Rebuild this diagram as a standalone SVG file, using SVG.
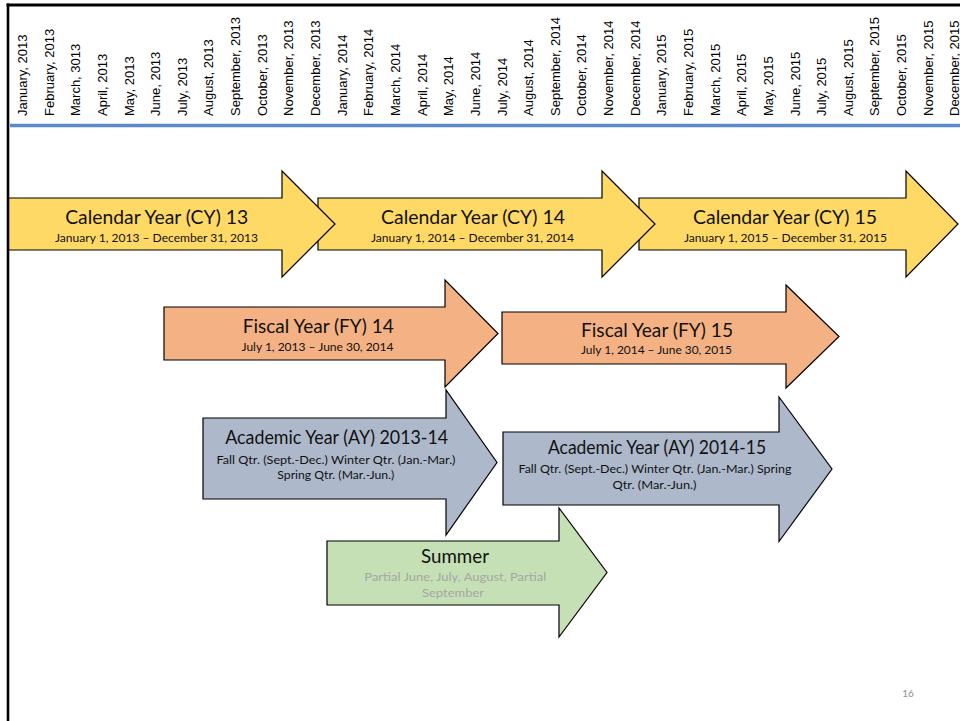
<svg xmlns="http://www.w3.org/2000/svg" width="960" height="721" viewBox="0 0 960 721">
<style>
.m{font-family:"Liberation Sans",Arial,sans-serif;font-size:13px;fill:#000}
.ar{stroke:#000;stroke-width:1.2;stroke-linejoin:miter}
.cy{fill:#FFD966}.fy{fill:#F4B183}.ay{fill:#ADB9CA}.su{fill:#C5E0B4}
.t{font-family:Lato,"Open Sans","Noto Sans",sans-serif;font-size:20px;fill:#111;text-anchor:middle}
.s{font-family:Lato,"Open Sans","Noto Sans",sans-serif;font-size:12px;fill:#111;text-anchor:middle}
.g{fill:#A6A6A6}
</style>
<rect width="960" height="721" fill="#fff"/>
<g id="months">
<text class="m" transform="translate(27,116) rotate(-90)">January, 2013</text>
<text class="m" transform="translate(53.64,116) rotate(-90)">February, 2013</text>
<text class="m" transform="translate(80.28,116) rotate(-90)">March, 3013</text>
<text class="m" transform="translate(106.92,116) rotate(-90)">April, 2013</text>
<text class="m" transform="translate(133.56,116) rotate(-90)">May, 2013</text>
<text class="m" transform="translate(160.2,116) rotate(-90)">June, 2013</text>
<text class="m" transform="translate(186.84,116) rotate(-90)">July, 2013</text>
<text class="m" transform="translate(213.48,116) rotate(-90)">August, 2013</text>
<text class="m" transform="translate(240.12,116) rotate(-90)">September, 2013</text>
<text class="m" transform="translate(266.76,116) rotate(-90)">October, 2013</text>
<text class="m" transform="translate(293.4,116) rotate(-90)">November, 2013</text>
<text class="m" transform="translate(320.04,116) rotate(-90)">December, 2013</text>
<text class="m" transform="translate(346.68,116) rotate(-90)">January, 2014</text>
<text class="m" transform="translate(373.32,116) rotate(-90)">February, 2014</text>
<text class="m" transform="translate(399.96,116) rotate(-90)">March, 2014</text>
<text class="m" transform="translate(426.6,116) rotate(-90)">April, 2014</text>
<text class="m" transform="translate(453.24,116) rotate(-90)">May, 2014</text>
<text class="m" transform="translate(479.88,116) rotate(-90)">June, 2014</text>
<text class="m" transform="translate(506.52,116) rotate(-90)">July, 2014</text>
<text class="m" transform="translate(533.16,116) rotate(-90)">August, 2014</text>
<text class="m" transform="translate(559.8,116) rotate(-90)">September, 2014</text>
<text class="m" transform="translate(586.44,116) rotate(-90)">October, 2014</text>
<text class="m" transform="translate(613.08,116) rotate(-90)">November, 2014</text>
<text class="m" transform="translate(639.72,116) rotate(-90)">December, 2014</text>
<text class="m" transform="translate(666.36,116) rotate(-90)">January, 2015</text>
<text class="m" transform="translate(693,116) rotate(-90)">February, 2015</text>
<text class="m" transform="translate(719.64,116) rotate(-90)">March, 2015</text>
<text class="m" transform="translate(746.28,116) rotate(-90)">April, 2015</text>
<text class="m" transform="translate(772.92,116) rotate(-90)">May, 2015</text>
<text class="m" transform="translate(799.56,116) rotate(-90)">June, 2015</text>
<text class="m" transform="translate(826.2,116) rotate(-90)">July, 2015</text>
<text class="m" transform="translate(852.84,116) rotate(-90)">August, 2015</text>
<text class="m" transform="translate(879.48,116) rotate(-90)">September, 2015</text>
<text class="m" transform="translate(906.12,116) rotate(-90)">October, 2015</text>
<text class="m" transform="translate(932.76,116) rotate(-90)">November, 2015</text>
<text class="m" transform="translate(959.4,116) rotate(-90)">December, 2015</text>
</g>
<line x1="10" y1="125.5" x2="960" y2="125.5" stroke="#5B8BC9" stroke-width="3.5"/>
<g id="cy15">
<polygon class="ar cy" points="639,198 906,198 906,171 958,224 906,277 906,250 639,250"/>
<text class="t" x="785" y="224" textLength="184" lengthAdjust="spacingAndGlyphs">Calendar Year (CY) 15</text>
<text class="s" x="785.5" y="241.7" textLength="203" lengthAdjust="spacingAndGlyphs">January 1, 2015 – December 31, 2015</text>
</g>
<g id="cy14">
<polygon class="ar cy" points="318,198 602,198 602,171 655,224 602,277 602,250 318,250"/>
<text class="t" x="473" y="224" textLength="184" lengthAdjust="spacingAndGlyphs">Calendar Year (CY) 14</text>
<text class="s" x="472.5" y="241.7" textLength="203" lengthAdjust="spacingAndGlyphs">January 1, 2014 – December 31, 2014</text>
</g>
<g id="cy13">
<polygon class="ar cy" points="8,198 282,198 282,171 335,224 282,277 282,250 8,250"/>
<text class="t" x="156.7" y="224" textLength="183" lengthAdjust="spacingAndGlyphs">Calendar Year (CY) 13</text>
<text class="s" x="156.5" y="241.7" textLength="203" lengthAdjust="spacingAndGlyphs">January 1, 2013 – December 31, 2013</text>
</g>
<g id="fy14">
<polygon class="ar fy" points="164,307 445,307 445,280 498,333.5 445,387 445,360 164,360"/>
<text class="t" x="318.3" y="332.7" textLength="151" lengthAdjust="spacingAndGlyphs">Fiscal Year (FY) 14</text>
<text class="s" x="317.5" y="351" textLength="152" lengthAdjust="spacingAndGlyphs">July 1, 2013 – June 30, 2014</text>
</g>
<g id="fy15">
<polygon class="ar fy" points="502,312 786,312 786,285 839,336.5 786,388 786,364 502,364"/>
<text class="t" x="657" y="336.7" textLength="152" lengthAdjust="spacingAndGlyphs">Fiscal Year (FY) 15</text>
<text class="s" x="656.5" y="354" textLength="151" lengthAdjust="spacingAndGlyphs">July 1, 2014 – June 30, 2015</text>
</g>
<g id="ay1314">
<polygon class="ar ay" points="203,418 446,418 446,390 497,462.5 446,535 446,499 203,499"/>
<text class="t" x="336.7" y="444" textLength="223" lengthAdjust="spacingAndGlyphs">Academic Year (AY) 2013-14</text>
<text class="s" x="336" y="464" textLength="239" lengthAdjust="spacingAndGlyphs">Fall Qtr. (Sept.-Dec.) Winter Qtr. (Jan.-Mar.)</text>
<text class="s" x="335.8" y="479" textLength="117" lengthAdjust="spacingAndGlyphs">Spring Qtr. (Mar.-Jun.)</text>
</g>
<g id="ay1415">
<polygon class="ar ay" points="503,432 779,432 779,397 832,469 779,541.5 779,505 503,505"/>
<text class="t" x="657" y="454" textLength="218" lengthAdjust="spacingAndGlyphs">Academic Year (AY) 2014-15</text>
<text class="s" x="655" y="473.3" textLength="273" lengthAdjust="spacingAndGlyphs">Fall Qtr. (Sept.-Dec.) Winter Qtr. (Jan.-Mar.) Spring</text>
<text class="s" x="654.5" y="489" textLength="84" lengthAdjust="spacingAndGlyphs">Qtr. (Mar.-Jun.)</text>
</g>
<g id="summer">
<polygon class="ar su" points="327,541 559,541 559,508 607,572.5 559,637 559,605 327,605"/>
<text class="t" x="455" y="563.3" textLength="68" lengthAdjust="spacingAndGlyphs">Summer</text>
<text class="s g" x="455.3" y="581" textLength="182" lengthAdjust="spacingAndGlyphs">Partial June, July, August, Partial</text>
<text class="s g" x="453" y="596.7" textLength="62" lengthAdjust="spacingAndGlyphs">September</text>
</g>
<text x="908" y="697.3" font-family="Lato,'Open Sans',sans-serif" font-size="10" fill="#8C8C8C" text-anchor="middle">16</text>
<g id="frame" stroke="#000" fill="none">
<line x1="6.5" y1="5" x2="960" y2="5" stroke-width="3"/>
<line x1="8" y1="3.5" x2="8" y2="721" stroke-width="2.6"/>
</g>
</svg>
